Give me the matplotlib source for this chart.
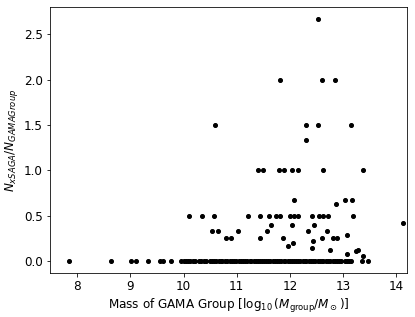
import numpy as np
import matplotlib
matplotlib.use('Agg')
from matplotlib import pyplot as plt

# groups with no xSAGA match (ratio = 0)
zero_mass = [7.84, 8.63, 9.01, 9.10, 9.34, 9.56, 9.61, 9.77,
             9.96, 10.00, 10.04, 10.09, 10.13, 10.18, 10.21,
             10.29, 10.33, 10.38, 10.42,
             10.50, 10.53, 10.57, 10.61, 10.66, 10.70, 10.73, 10.78, 10.82,
             10.87, 10.91, 10.95, 10.99, 11.04, 11.08, 11.12, 11.15, 11.20,
             11.24, 11.27, 11.32, 11.36, 11.40, 11.43, 11.47, 11.52, 11.55,
             11.59, 11.63, 11.68, 11.72, 11.75, 11.80, 11.84, 11.88, 11.91,
             11.96, 12.00, 12.03, 12.07, 12.12, 12.16, 12.19, 12.24, 12.28,
             12.31, 12.35, 12.40, 12.44, 12.47, 12.52, 12.56, 12.60, 12.63,
             12.68, 12.72, 12.76, 12.80, 12.84, 12.88, 12.92, 12.96,
             13.03, 13.07, 13.11, 13.14, 13.35, 13.46]

# groups with at least one match
mass = [12.53,
        11.82, 12.60, 12.85,
        10.60, 12.30, 12.52, 13.14,
        12.30,
        11.40, 11.49, 11.80, 11.89, 12.03, 12.15, 12.62, 13.37,
        12.08, 13.04, 13.16,
        12.87,
        10.10, 10.35, 10.57, 11.21, 11.43, 11.60, 11.74, 11.82, 12.00,
        12.08, 12.16, 12.41, 12.55, 12.62, 12.71, 13.18,
        14.12,
        11.64, 12.04, 12.45,
        10.53, 10.65, 11.03, 11.57, 12.33, 12.70,
        13.08,
        10.80, 10.90, 11.43, 11.87, 12.60, 12.81, 12.89,
        12.43, 12.05, 11.96, 12.41, 12.75, 13.25, 13.28, 13.08, 13.38]
ratio = [2.667,
         2.0, 2.0, 2.0,
         1.5, 1.5, 1.5, 1.5,
         1.333,
         1.0, 1.0, 1.0, 1.0, 1.0, 1.0, 1.0, 1.0,
         0.667, 0.667, 0.667,
         0.625,
         0.5, 0.5, 0.5, 0.5, 0.5, 0.5, 0.5, 0.5, 0.5,
         0.5, 0.5, 0.5, 0.5, 0.5, 0.5, 0.5,
         0.419,
         0.4, 0.4, 0.4,
         0.333, 0.333, 0.333, 0.333, 0.333, 0.333,
         0.286,
         0.25, 0.25, 0.25, 0.25, 0.25, 0.25, 0.25,
         0.222, 0.2, 0.167, 0.143, 0.125, 0.111, 0.118, 0.0714, 0.0588]

x = np.concatenate([zero_mass, mass])
y = np.concatenate([np.zeros(len(zero_mass)), ratio])

plt.rcParams['font.size'] = 12

fig = plt.figure(figsize=(415 / 72, 317 / 72), dpi=72)
ax = fig.add_axes([50 / 415, 44 / 317, 357 / 415, 266 / 317])
ax.plot(x, y, 'k.', markersize=8)

ax.set_xlim(7.49, 14.2)
ax.set_ylim(-0.133, 2.8)
ax.set_xlabel(r'Mass of GAMA Group [$\log_{10}(M_{\rm group}/M_\odot)$]')
ax.set_ylabel(r'$N_{xSAGA}/N_{GAMAGroup}$')

fig.savefig('out.png', dpi=72)
